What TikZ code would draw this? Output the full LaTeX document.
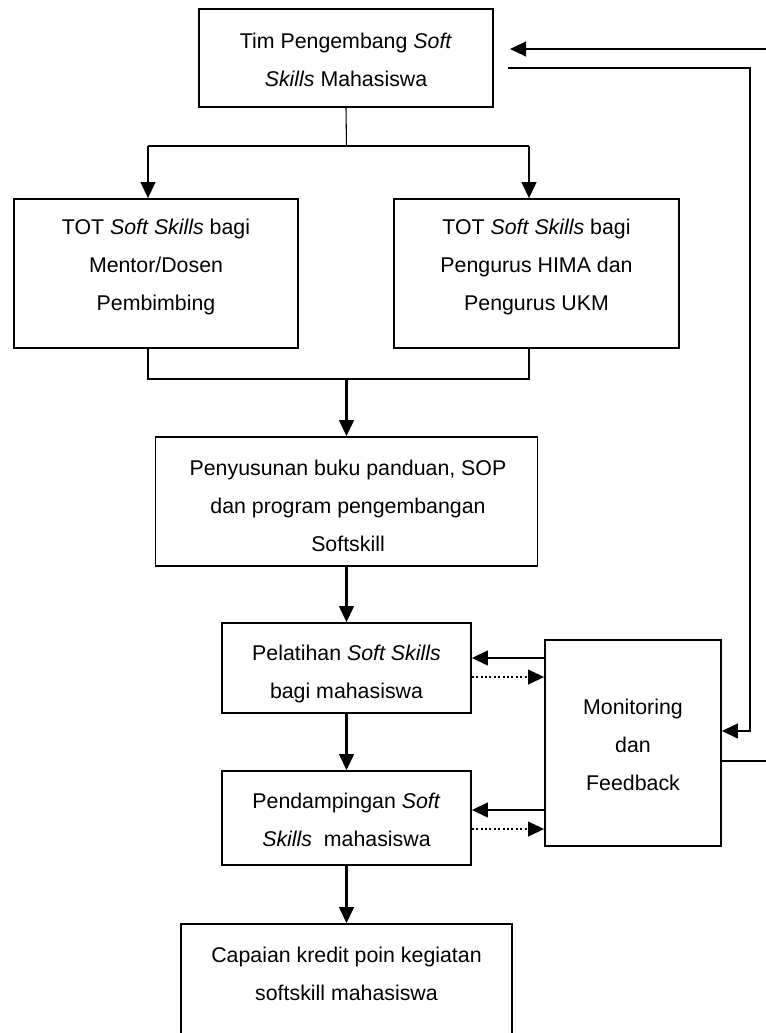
\documentclass[tikz,border=0pt]{standalone}
\usepackage{fontspec}
\setmainfont{Liberation Sans}
\usetikzlibrary{arrows.meta,calc}

\tikzset{
  box/.style={draw, line width=1.3pt, inner sep=0pt},
  txt/.style={align=center, inner sep=0.75pt, font=\fontsize{16}{28.5}\selectfont},
  arr/.style={line width=1.6pt, -{Triangle[length=12pt,width=11pt]}},
  dotarr/.style={line width=1.4pt, dash pattern=on 1.5pt off 1.8pt, -{Triangle[length=12pt,width=11pt]}},
  wire/.style={line width=1.3pt},
}

\begin{document}
\begin{tikzpicture}[x=0.75pt,y=0.75pt,yscale=-1,xscale=1]
\useasboundingbox (0,0) rectangle (766,1033);
\clip (0,0) rectangle (766,1033);

%Shape: Rectangle [id:tim]
\node [box, minimum width=220.5pt, minimum height=73.5pt] (tim) at (346,58) {};
%Shape: Rectangle [id:totA]
\node [box, minimum width=213pt, minimum height=111.75pt] (totA) at (156,273.5) {};
%Shape: Rectangle [id:totB]
\node [box, minimum width=213.75pt, minimum height=111.75pt] (totB) at (536.5,273.5) {};
%Shape: Rectangle [id:buku]
\node [box, minimum width=286.5pt, minimum height=96.75pt] (buku) at (346.5,501.5) {};
%Shape: Rectangle [id:latih]
\node [box, minimum width=186.75pt, minimum height=67.5pt] (latih) at (346.5,668) {};
%Shape: Rectangle [id:damping]
\node [box, minimum width=186.75pt, minimum height=70.5pt] (damping) at (346.5,818) {};
%Shape: Rectangle [id:mon]
\node [box, minimum width=132pt, minimum height=154.5pt] (mon) at (633,743) {};
%Shape: Rectangle [id:capai]
\node [box, minimum width=248.25pt, minimum height=102pt] (capai) at (346.5,992) {};

% Text Node
\node [txt] (timtxt) at (346,60) {Tim Pengembang \textit{Soft}\\\textit{Skills} Mahasiswa};
% Text Node
\node [txt] (totAtxt) at (156,267) {TOT \textit{Soft Skills} bagi\\Mentor/Dosen\\Pembimbing};
% Text Node
\node [txt] (totBtxt) at (536.5,267) {TOT \textit{Soft Skills} bagi\\Pengurus HIMA dan\\Pengurus UKM};
% Text Node
\node [txt] (bukutxt) at (348,506) {Penyusunan buku panduan, SOP\\dan program pengembangan\\Softskill};
% Text Node
\node [txt] (latihtxt) at (346.5,674) {Pelatihan \textit{Soft Skills}\\bagi mahasiswa};
% Text Node
\node [txt] (dampingtxt) at (346.5,820) {Pendampingan \textit{Soft}\\\textit{Skills}\ \ mahasiswa};
% Text Node
\node [txt] (montxt) at (633,745) {Monitoring\\dan\\Feedback};
% Text Node
\node [txt] (capaitxt) at (346.5,974) {Capaian kredit poin kegiatan\\softskill mahasiswa};

% Connectors
\coordinate (fbin) at (766,49);
\coordinate (timgap) at (510,49);
\draw [arr] (fbin) -- (timgap);
\coordinate (fbout) at (508,68);
\coordinate (fbbend) at (750,731);
\draw [arr] (fbout) -| (fbbend) -- (fbbend -| mon.east);
\coordinate (monout) at (766,761);
\draw [line width=1.6pt] (monout -| mon.east) -- (monout);

\coordinate (split) at (346.5,146);
\coordinate (splitL) at (148,146);
\coordinate (splitR) at (529,146);
\draw [line width=0.8pt] (tim.south) -- (split);
\draw [wire] (splitL) -- (splitR);
\draw [arr] (splitL) -- (splitL |- totA.north);
\draw [arr] (splitR) -- (splitR |- totB.north);

\coordinate (joinL) at (148,379);
\coordinate (joinR) at (529,379);
\coordinate (join) at (346.5,379);
\draw [wire] (joinL |- totA.south) -- (joinL) -- (joinR) -- (joinR |- totB.south);
\draw [arr] (join) -- (buku.north);
\draw [arr] (buku.south) -- (latih.north);
\draw [arr] (latih.south) -- (damping.north);
\draw [arr] (damping.south) -- (capai.north);

\coordinate (latA) at ($(latih.east)+(0,-10)$);
\coordinate (latB) at ($(latih.east)+(0,9)$);
\draw [arr] (latA -| mon.west) -- (latA);
\draw [dotarr] (latB) -- (latB -| mon.west);
\coordinate (dampA) at ($(damping.east)+(0,-8)$);
\coordinate (dampB) at ($(damping.east)+(0,11)$);
\draw [arr] (dampA -| mon.west) -- (dampA);
\draw [dotarr] (dampB) -- (dampB -| mon.west);

\end{tikzpicture}
\end{document}
